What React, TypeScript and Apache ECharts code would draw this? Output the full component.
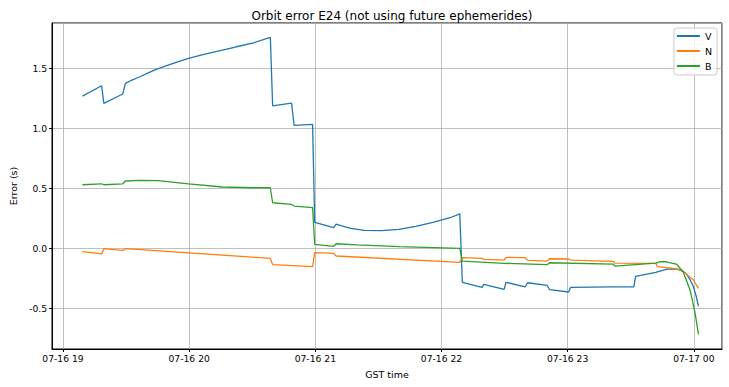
import React, { useEffect, useRef } from "react";
import * as echarts from "echarts";

// Times (GST) on 07-16 unless hour < 12 (then 07-17)
const vTimes = ["19:09:12","19:18:24","19:19:24","19:28:24","19:29:42","19:31:54","19:36:40","19:40:30","19:44:36","19:51:00","19:59:40","20:07:00","20:14:46","20:22:30","20:30:37","20:38:36","20:39:42","20:48:42","20:49:54","20:58:42","20:59:42","21:08:42","21:09:54","21:12:30","21:16:54","21:23:20","21:31:30","21:39:40","21:47:45","21:55:55","22:04:05","22:08:42","22:09:54","22:19:18","22:20:06","22:29:48","22:30:42","22:39:48","22:40:57","22:50:12","22:51:24","23:00:30","23:01:24","23:21:36","23:31:30","23:32:18","23:41:54","23:46:48","23:51:42","23:54:54","23:56:30","23:58:12","23:59:48","00:01:00","00:02:12"];
const vValues = [1.269,1.355,1.208,1.286,1.375,1.395,1.43,1.462,1.494,1.533,1.583,1.616,1.647,1.68,1.713,1.758,1.188,1.211,1.025,1.033,0.217,0.172,0.2025,0.188,0.167,0.150,0.147,0.158,0.183,0.217,0.255,0.288,-0.283,-0.325,-0.300,-0.342,-0.283,-0.322,-0.287,-0.308,-0.345,-0.364,-0.325,-0.322,-0.320,-0.233,-0.200,-0.175,-0.172,-0.192,-0.214,-0.26,-0.32,-0.39,-0.481];

const nTimes = ["19:09:12","19:18:24","19:19:24","19:28:24","19:29:42","20:38:36","20:39:42","20:58:42","20:59:42","21:08:42","21:09:54","22:08:42","22:09:54","22:19:18","22:20:06","22:29:48","22:30:42","22:39:48","22:40:57","22:50:12","22:51:24","23:00:30","23:01:24","23:21:36","23:22:24","23:41:54","23:42:42","23:51:42","23:54:54","23:56:30","23:58:12","23:59:48","00:02:12"];
const nValues = [-0.028,-0.047,-0.003,-0.017,-0.003,-0.083,-0.136,-0.153,-0.036,-0.042,-0.064,-0.117,-0.078,-0.083,-0.092,-0.0975,-0.075,-0.078,-0.100,-0.106,-0.087,-0.089,-0.0975,-0.108,-0.1225,-0.125,-0.153,-0.170,-0.190,-0.214,-0.240,-0.264,-0.333];

const bTimes = ["19:09:12","19:18:24","19:19:24","19:28:24","19:29:42","19:36:42","19:45:00","19:59:42","20:16:00","20:30:00","20:38:36","20:39:42","20:48:42","20:49:54","20:58:42","20:59:42","21:08:42","21:09:54","21:20:00","21:40:00","22:08:42","22:09:54","22:29:48","22:50:12","22:51:24","23:21:36","23:22:24","23:41:54","23:44:00","23:46:48","23:51:42","23:54:54","23:58:12","00:00:36","00:02:12"];
const bValues = [0.530,0.538,0.530,0.538,0.561,0.567,0.565,0.538,0.511,0.505,0.505,0.380,0.367,0.3525,0.339,0.033,0.017,0.038,0.028,0.015,0.000,-0.106,-0.125,-0.136,-0.120,-0.131,-0.148,-0.1225,-0.110,-0.112,-0.131,-0.195,-0.347,-0.540,-0.717];

const seriesNames = ["V", "N", "B"];
const seriesColors = ["#1f77b4", "#ff7f0e", "#2ca02c"];

const axisStart = "18:54:46";
const axisEnd = "00:13:24";

function toTs(t: string): number {
  const [h, m, s] = t.split(":").map(Number);
  const day = h < 12 ? 17 : 16;
  return Date.UTC(2021, 6, day, h, m, s);
}

const pad = (n: number) => (n < 10 ? "0" + n : "" + n);

export default function App() {
  const ref = useRef<HTMLDivElement>(null);
  useEffect(() => {
    if (!ref.current) return;
    const chart = echarts.init(ref.current, undefined, { renderer: "svg" });
    const font = "DejaVu Sans";
    const mk = (times: string[], vals: number[]) => times.map((t, i) => [toTs(t), vals[i]]);
    const datas = [mk(vTimes, vValues), mk(nTimes, nValues), mk(bTimes, bValues)];
    chart.setOption({
      animation: false,
      useUTC: true,
      backgroundColor: "#fff",
      title: {
        text: "Orbit error E24 (not using future ephemerides)",
        left: 387,
        textAlign: "center",
        top: 5,
        textStyle: { fontFamily: font, fontSize: 12, fontWeight: "normal", color: "#000" },
      },
      legend: {
        orient: "vertical",
        right: 12,
        top: 28,
        align: "left",
        icon: "rect",
        itemWidth: 23,
        itemHeight: 2,
        itemGap: 3,
        padding: [2, 5, 3, 3],
        borderColor: "#cccccc",
        borderWidth: 1,
        borderRadius: 3,
        backgroundColor: "rgba(255,255,255,0.8)",
        textStyle: { fontFamily: font, fontSize: 9.5, color: "#000", lineHeight: 12 },
        data: seriesNames,
      },
      grid: {
        left: 52,
        right: 7,
        top: 23,
        bottom: 38,
        show: true,
        borderColor: "#000",
        borderWidth: 1,
        backgroundColor: "transparent",
      },
      xAxis: {
        type: "time",
        min: toTs(axisStart),
        max: toTs(axisEnd),
        minInterval: 3600 * 1000,
        maxInterval: 3600 * 1000,
        name: "GST time",
        nameLocation: "middle",
        nameGap: 20,
        nameTextStyle: { fontFamily: font, fontSize: 9.5, color: "#000" },
        axisLine: { show: true, onZero: false, lineStyle: { color: "#000", width: 1 } },
        axisTick: { show: true, length: 3, lineStyle: { color: "#000" } },
        axisLabel: {
          fontFamily: font,
          fontSize: 9.2,
          color: "#000",
          margin: 5,
          showMinLabel: false,
          showMaxLabel: false,
          formatter: (v: number) => {
            const d = new Date(v);
            return `${pad(d.getUTCMonth() + 1)}-${pad(d.getUTCDate())} ${pad(d.getUTCHours())}`;
          },
        },
        splitLine: { show: true, lineStyle: { color: "#b0b0b0", width: 0.8 } },
      },
      yAxis: {
        type: "value",
        min: -0.839,
        max: 1.878,
        splitNumber: 5,
        name: "Error (s)",
        nameLocation: "middle",
        nameGap: 34,
        nameTextStyle: { fontFamily: font, fontSize: 9.5, color: "#000" },
        axisLine: { show: true, onZero: false, lineStyle: { color: "#000", width: 1 } },
        axisTick: { show: true, length: 3, lineStyle: { color: "#000" } },
        axisLabel: {
          fontFamily: font,
          fontSize: 9.2,
          color: "#000",
          margin: 5,
          showMinLabel: false,
          showMaxLabel: false,
          formatter: (v: number) => v.toFixed(1),
        },
        splitLine: { show: true, lineStyle: { color: "#b0b0b0", width: 0.8 } },
      },
      series: seriesNames.map((n, i) => ({
        name: n,
        type: "line",
        data: datas[i],
        showSymbol: false,
        symbol: "none",
        color: seriesColors[i],
        lineStyle: { color: seriesColors[i], width: 1.3 },
      })),
    });
    return () => chart.dispose();
  }, []);
  return <div ref={ref} style={{ width: 729, height: 387, position: "absolute", left: 0, top: 0 }} />;
}
